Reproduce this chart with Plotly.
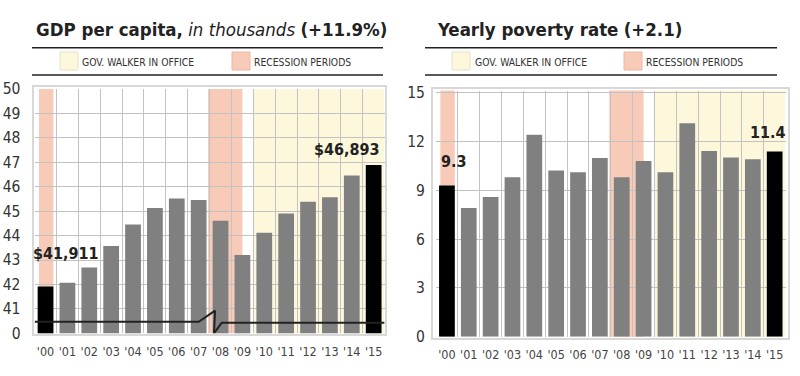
import plotly.graph_objects as go

years = ["'00", "'01", "'02", "'03", "'04", "'05", "'06", "'07",
         "'08", "'09", "'10", "'11", "'12", "'13", "'14", "'15"]
gdp = [41.911, 42.07, 42.69, 43.57, 44.45, 45.13, 45.52, 45.46,
       44.61, 43.21, 44.12, 44.90, 45.38, 45.57, 46.46, 46.893]
poverty = [9.3, 7.92, 8.60, 9.81, 12.43, 10.22, 10.12, 11.0,
           9.81, 10.81, 10.12, 13.13, 11.43, 11.02, 10.92, 11.4]
gdp_tickvals = [40, 41, 42, 43, 44, 45, 46, 47, 48, 49, 50]
gdp_ticktext = ["0", "41", "42", "43", "44", "45", "46", "47", "48", "49", "50"]
pov_ticks = [0, 3, 6, 9, 12, 15]

# axis-break marker (data coords of the left chart)
break_x = [-0.5, 7.0, 7.75, 7.7, 8.05, 15.5]
break_y = [40.47, 40.47, 40.93, 40.0, 40.43, 40.43]

GRAY = "#808080"
BLACK = "#000000"
YELLOW = "#fdf8dc"
PINK = "#f8cab8"
COND = "Liberation Sans Narrow, Arial Narrow, DejaVu Sans Condensed, sans-serif"

colors = [BLACK] + [GRAY] * 14 + [BLACK]

fig = go.Figure()
fig.add_trace(go.Bar(x=years, y=gdp, marker=dict(color=colors, line=dict(width=0)),
                     xaxis="x", yaxis="y", showlegend=False, hoverinfo="skip"))
fig.add_trace(go.Bar(x=years, y=poverty, marker=dict(color=colors, line=dict(width=0)),
                     xaxis="x2", yaxis="y2", showlegend=False, hoverinfo="skip"))
fig.add_trace(go.Scatter(x=break_x, y=break_y, mode="lines",
                         line=dict(color="#222222", width=2),
                         xaxis="x3", yaxis="y", showlegend=False, hoverinfo="skip"))

W, H = 800, 376
def px(v):
    return v / W
def py(v):
    return 1 - v / H

L_dom_x = [px(34.6), px(384.6)]
L_dom_y = [py(333.3), py(89)]
R_dom_x = [px(436), px(785.6)]
R_dom_y = [py(336.7), py(90.5)]

grid = "#c2c2c2"
xcommon = dict(type="category", tickson="boundaries", showgrid=True, gridcolor=grid,
               gridwidth=1, ticks="", ticklabelstandoff=9,
               tickangle=0, automargin=False,
               tickfont=dict(family=COND, size=12.5, color="#444"), showline=False,
               zeroline=False, fixedrange=True)
ycommon = dict(showgrid=True, gridcolor=grid, zeroline=False, automargin=False,
               ticks="outside", tickcolor="rgba(0,0,0,0)", fixedrange=True,
               tickfont=dict(family=COND, size=15.5, color="#333"))

fig.update_layout(
    width=W, height=H, margin=dict(l=0, r=0, t=0, b=0),
    paper_bgcolor="white", plot_bgcolor="white", bargap=0.28,
    xaxis=dict(domain=L_dom_x, anchor="y", range=[-0.5, 15.5], **xcommon),
    yaxis=dict(domain=L_dom_y, anchor="x", range=[40, 50], tickvals=gdp_tickvals,
               ticktext=gdp_ticktext, ticklen=10, **ycommon),
    xaxis2=dict(domain=R_dom_x, anchor="y2", range=[-0.5, 15.5], **xcommon),
    yaxis2=dict(domain=R_dom_y, anchor="x2", range=[0, 15.15], tickvals=pov_ticks,
                ticklen=7, **ycommon),
    xaxis3=dict(domain=L_dom_x, anchor="y", overlaying="x", range=[-0.5, 15.5],
                visible=False, showgrid=False, automargin=False),
)

shapes = []
for xr, yr in (("x", "y"), ("x2", "y2")):
    shapes.append(dict(type="rect", xref=xr, yref=yr + " domain", x0=9.5, x1=15.5, y0=0, y1=1,
                       fillcolor=YELLOW, line=dict(width=0), layer="below"))
    shapes.append(dict(type="rect", xref=xr, yref=yr + " domain", x0=-0.3, x1=0.36, y0=0, y1=1,
                       fillcolor=PINK, line=dict(width=0), layer="below"))
    shapes.append(dict(type="rect", xref=xr, yref=yr + " domain", x0=7.43, x1=9.0, y0=0, y1=1,
                       fillcolor=PINK, line=dict(width=0), layer="below"))

# frames
for (x0, x1, y0, y1) in ((33, 386, 86, 335), (432, 789, 88, 339)):
    shapes.append(dict(type="rect", xref="paper", yref="paper", x0=px(x0), x1=px(x1),
                       y0=py(y1), y1=py(y0), line=dict(color="#d8d8d8", width=2),
                       fillcolor="rgba(0,0,0,0)", layer="above"))

# legend rules and swatches
for (lx0, lx1, ys, yl_sq, pk_sq) in ((32, 383, (47.7, 75), 60, 232), (425, 777, (47.7, 75), 452, 624)):
    for yy in ys:
        shapes.append(dict(type="line", xref="paper", yref="paper", x0=px(lx0), x1=px(lx1),
                           y0=py(yy), y1=py(yy), line=dict(color="#222", width=1.5)))
    shapes.append(dict(type="rect", xref="paper", yref="paper", x0=px(yl_sq), x1=px(yl_sq + 18),
                       y0=py(70), y1=py(52), fillcolor=YELLOW, line=dict(color="#e6e2c8", width=1)))
    shapes.append(dict(type="rect", xref="paper", yref="paper", x0=px(pk_sq), x1=px(pk_sq + 18),
                       y0=py(70), y1=py(52), fillcolor=PINK, line=dict(color="#e9b8a6", width=1)))

fig.update_layout(shapes=shapes)

ann = []
def text(x, y, s, size, xanchor="left", color="#222"):
    ann.append(dict(xref="paper", yref="paper", x=px(x), y=py(y), text=s, showarrow=False,
                    xanchor=xanchor, yanchor="middle", borderpad=0,
                    font=dict(family=COND, size=size, color=color)))

text(35, 30, "<b>GDP per capita,</b> <i>in thousands</i> <b>(+11.9%)</b>", 18.5)
text(436, 30, "<b>Yearly poverty rate</b> <b>(+2.1)</b>", 18.5)
text(81, 62, "GOV. WALKER IN OFFICE", 10.3, color="#333")
text(253, 62, "RECESSION PERIODS", 10.3, color="#333")
text(474, 62, "GOV. WALKER IN OFFICE", 10.3, color="#333")
text(645, 62, "RECESSION PERIODS", 10.3, color="#333")

bold = dict(family=COND, size=16, color="#222")
ann.append(dict(xref="x", yref="y", x=0, y=gdp[0], text="<b>$41,911</b>", showarrow=False,
                xanchor="center", yanchor="middle", xshift=20.5, yshift=33, font=bold))
ann.append(dict(xref="x", yref="y", x=15.36, y=gdp[-1], text="<b>$46,893</b>", showarrow=False,
                xanchor="right", yanchor="middle", yshift=15, font=bold))
ann.append(dict(xref="x2", yref="y2", x=-0.36, y=poverty[0], text="<b>9.3</b>", showarrow=False,
                xanchor="left", yanchor="middle", yshift=24, font=bold))
ann.append(dict(xref="x2", yref="y2", x=15.36, y=poverty[-1], text="<b>11.4</b>", showarrow=False,
                xanchor="right", yanchor="middle", xshift=5, yshift=19, font=bold))
fig.update_layout(annotations=ann)

fig.write_html("out.html", config={"displayModeBar": False},
               post_script="document.body.style.margin='0';document.body.style.overflow='hidden';")
